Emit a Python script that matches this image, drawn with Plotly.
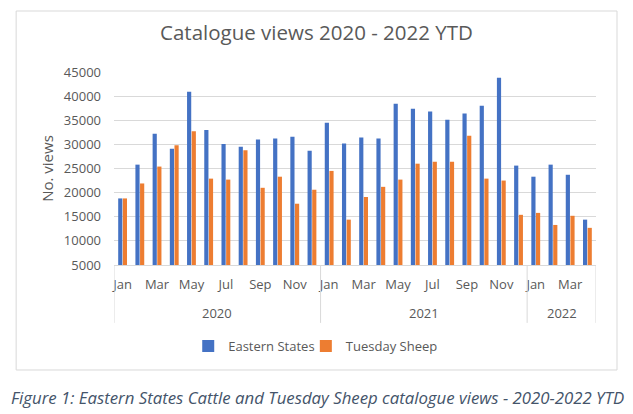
import plotly.graph_objects as go

months = ["Jan", "Feb", "Mar", "Apr", "May", "Jun", "Jul", "Aug", "Sep", "Oct", "Nov", "Dec",
          "Jan", "Feb", "Mar", "Apr", "May", "Jun", "Jul", "Aug", "Sep", "Oct", "Nov", "Dec",
          "Jan", "Feb", "Mar", "Apr"]
years = ["2020"] * 12 + ["2021"] * 12 + ["2022"] * 4
eastern_states = [18800, 25800, 32200, 29100, 40900, 33000, 30100, 29500, 31000, 31200, 31600, 28700,
                  34500, 30200, 31400, 31200, 38400, 37400, 36800, 35100, 36400, 38000, 43800, 25600,
                  23300, 25800, 23700, 14400]
tuesday_sheep = [18800, 21900, 25400, 29800, 32700, 22900, 22700, 28800, 21000, 23300, 17700, 20600,
                 24500, 14400, 19100, 21200, 22700, 26000, 26400, 26400, 31800, 22900, 22500, 15400,
                 15800, 13300, 15200, 12700]
y_ticks = [5000, 10000, 15000, 20000, 25000, 30000, 35000, 40000, 45000]

idx = list(range(len(months)))
grey = "#595959"
font_family = "Open Sans, DejaVu Sans, sans-serif"

fig = go.Figure()
fig.add_trace(go.Bar(x=idx, y=eastern_states, name="Eastern States", marker_color="#4472C4",
                     marker_line_width=0, legend="legend"))
fig.add_trace(go.Bar(x=idx, y=tuesday_sheep, name="Tuesday Sheep", marker_color="#ED7D31",
                     marker_line_width=0, legend="legend2"))

# year groups
year_order = []
for y in years:
    if y not in year_order:
        year_order.append(y)
shapes = []
annotations = []
start = 0
bounds = [-0.5]
for y in year_order:
    n = years.count(y)
    center = start + (n - 1) / 2
    annotations.append(dict(x=center, y=-0.248, xref="x", yref="paper", yanchor="middle",
                            text=y, showarrow=False,
                            font=dict(size=13, color=grey, family=font_family)))
    start += n
    bounds.append(start - 0.5)
for b in bounds:
    shapes.append(dict(type="line", xref="x", yref="paper", x0=b, x1=b, y0=0, y1=-0.30,
                       line=dict(color="#D9D9D9", width=1)))

# outer chart border
shapes.append(dict(type="rect", xref="paper", yref="paper", x0=-0.203, x1=1.0436, y0=-0.544, y1=1.316,
                   line=dict(color="#D9D9D9", width=1), fillcolor="rgba(0,0,0,0)", layer="below"))

annotations.append(dict(x=0.423, xref="paper", y=-0.689, yref="paper", yanchor="middle",
                        text="<i>Figure 1: Eastern States Cattle and Tuesday Sheep catalogue views - 2020-2022 YTD</i>",
                        showarrow=False, font=dict(size=16.8, color="#44546A", family=font_family)))

legend_common = dict(orientation="h", yanchor="middle", y=-0.42, xanchor="left",
                     font=dict(size=13, color=grey), itemwidth=30, bgcolor="rgba(0,0,0,0)")

fig.update_layout(
    width=633, height=414,
    margin=dict(l=114, r=37, t=72, b=149),
    paper_bgcolor="white", plot_bgcolor="white",
    font=dict(family=font_family, color=grey),
    title=dict(text="Catalogue views 2020 - 2022 YTD", x=0.5, xref="container", xanchor="center",
               y=0.92, yref="container", yanchor="middle",
               font=dict(size=20.5, color=grey, family=font_family)),
    barmode="group", bargap=0.46, bargroupgap=0.1,
    showlegend=True,
    legend=dict(x=0.154, **legend_common),
    legend2=dict(x=0.398, **legend_common),
    shapes=shapes, annotations=annotations,
)
fig.update_xaxes(
    range=[-0.5, len(months) - 0.5],
    tickmode="array", tickvals=idx[::2], ticktext=months[::2],
    ticks="", showgrid=False, showline=True, linecolor="#D9D9D9", linewidth=1,
    tickfont=dict(size=13, color=grey), ticklabelstandoff=7, zeroline=False,
)
fig.update_yaxes(
    range=[5000, 45000], tickmode="array", tickvals=y_ticks, ticktext=[str(v) for v in y_ticks],
    showgrid=True, gridcolor="#D9D9D9", gridwidth=1, zeroline=False, showline=False,
    tickfont=dict(size=13, color=grey), ticklabelstandoff=12,
    title=dict(text="No. views", font=dict(size=15, color=grey), standoff=6),
)

fig.write_html("out.html")
